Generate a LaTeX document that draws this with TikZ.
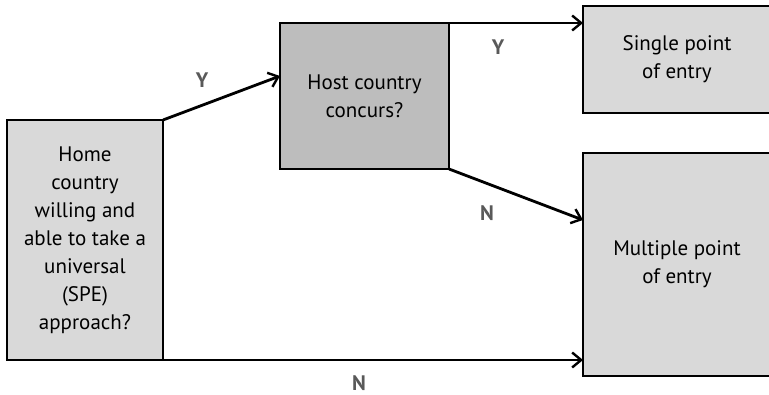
\documentclass[tikz,border=0pt]{standalone}
\usepackage{fontspec}
\setmainfont{PT Sans}
\usetikzlibrary{arrows.meta,positioning}
\definecolor{lightbox}{HTML}{D9D9D9}
\definecolor{darkbox}{HTML}{BDBDBD}
\definecolor{labelgray}{HTML}{595959}

\begin{document}
\begin{tikzpicture}[x=1pt,y=-1pt,
  box/.style={draw=black,line width=2.8pt,fill=lightbox,inner sep=2pt,outer sep=0pt,
    align=center,font=\fontsize{21}{28}\selectfont},
  yn/.style={font=\bfseries\fontsize{21}{24}\selectfont,text=labelgray,inner sep=1pt},
  flow/.style={-{Straight Barb[length=9pt,width=15pt,line width=2.4pt]},line width=2.8pt}]
\useasboundingbox (0,0) rectangle (769,395);
% \draw[help lines,step=50] (0,0) grid (769,395);
\node (home) [box,minimum width=156pt,minimum height=240pt] at (85,240)
  {Home\\country\\willing and\\able to take a\\universal\\(SPE)\\approach?};
\node (host) [box,fill=darkbox,minimum width=169pt,minimum height=146pt] at (364.5,96)
  {Host country\\concurs?};
\node (single) [box,minimum width=188pt,minimum height=107pt] at (677,59.5)
  {Single point\\of entry};
\node (multi) [box,minimum width=188pt,minimum height=223pt] at (677,264.5)
  {Multiple point\\of entry};
%
\node (y1) [yn] at (202,80) {Y};
\node (y2) [yn] at (498,47) {Y};
\node (n1) [yn] at (487,213) {N};
\node (n2) [yn] at (359,383) {N};
%
\path[flow] (home.north east) edge ([yshift=20pt]host.west);
\path[flow] (host.north east) edge (host.north east -| single.west);
\path[flow] (host.south east) edge ([yshift=44.5pt]multi.west);
\path[flow] (home.south east) edge (home.south east -| multi.west);
\end{tikzpicture}
\end{document}
